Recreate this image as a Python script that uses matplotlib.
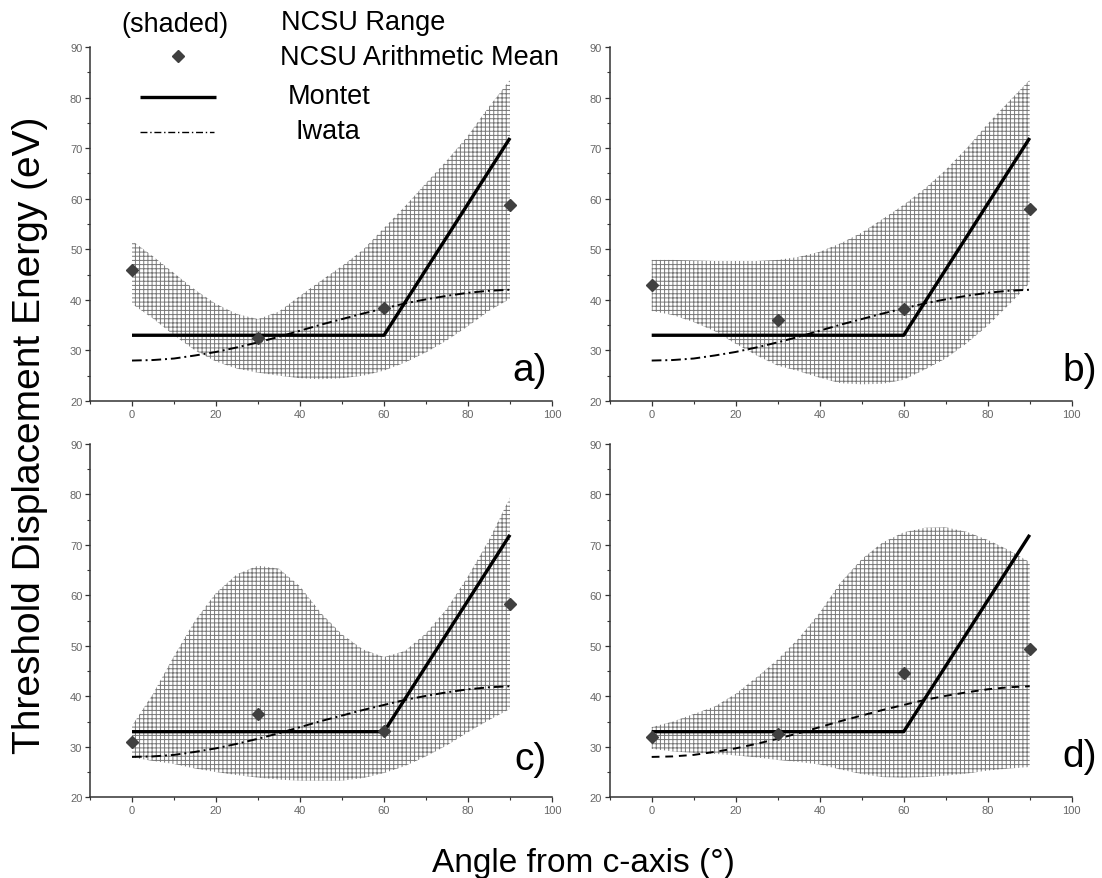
import numpy as np
import matplotlib
matplotlib.use("Agg")
import matplotlib.pyplot as plt
from matplotlib.lines import Line2D
from matplotlib.ticker import MultipleLocator

plt.rcParams['font.family'] = ['Liberation Sans', 'DejaVu Sans']
plt.rcParams['hatch.linewidth'] = 0.7

# angles (deg from c-axis) where the curves were sampled
ang = [0, 5, 10, 15, 20, 25, 30, 35, 40, 45, 50, 55, 60, 65, 70, 75, 80, 85, 90]

# Montet model
montet_x = [0, 60, 90]
montet_y = [33, 33, 72]

# Iwata model
iwata_y = [28.0, 28.1, 28.4, 29.0, 29.7, 30.6, 31.6, 32.7, 33.9, 35.1,
           36.2, 37.3, 38.3, 39.3, 40.1, 40.8, 41.4, 41.8, 42.0]

# NCSU arithmetic means
mean_x = [0, 30, 60, 90]
mean_a = [46.0, 32.5, 38.3, 58.7]
mean_b = [43.0, 36.0, 38.2, 58.0]
mean_c = [31.0, 36.6, 33.2, 58.2]
mean_d = [32.0, 32.5, 44.7, 49.4]

# NCSU range (upper / lower envelope)
hi_a = [51.7, 48.6, 45.3, 42.0, 39.2, 37.2, 36.2, 37.7, 40.8, 43.8,
        46.7, 49.9, 54.2, 58.5, 63.1, 67.6, 72.5, 78.2, 83.5]
lo_a = [39.2, 36.3, 33.0, 30.0, 27.8, 26.4, 25.6, 25.0, 24.5, 24.3,
        24.5, 25.0, 26.0, 27.6, 29.6, 32.0, 34.8, 37.8, 40.2]
hi_b = [47.9, 47.9, 47.8, 47.7, 47.7, 47.7, 47.9, 48.5, 49.5, 51.2,
        53.3, 56.0, 58.8, 62.0, 65.7, 70.0, 74.8, 79.2, 83.5]
lo_b = [37.8, 37.0, 35.6, 33.8, 31.3, 29.0, 27.0, 25.9, 24.6, 23.5,
        23.3, 23.4, 24.2, 26.2, 28.4, 31.4, 34.9, 39.0, 43.3]
hi_c = [34.2, 40.5, 48.0, 55.0, 60.5, 64.2, 65.9, 65.3, 61.8, 56.5,
        52.3, 49.3, 47.8, 49.0, 52.5, 57.4, 63.8, 71.0, 79.4]
lo_c = [27.9, 27.2, 26.6, 25.7, 25.0, 24.4, 23.9, 23.5, 23.3, 23.3,
        23.3, 23.8, 24.8, 26.2, 28.1, 30.3, 32.9, 35.3, 37.5]
hi_d = [33.9, 35.0, 36.5, 38.0, 40.5, 43.8, 47.3, 51.5, 56.6, 62.6,
        67.2, 70.5, 72.5, 73.4, 73.5, 72.6, 71.0, 69.0, 66.6]
lo_d = [29.6, 29.1, 28.8, 28.6, 28.3, 27.9, 27.4, 27.0, 26.5, 25.5,
        24.6, 24.0, 23.9, 24.0, 24.3, 24.7, 25.3, 25.7, 26.0]

panels = [
    ('a)', hi_a, lo_a, mean_a, (5, 2, 1, 2)),
    ('b)', hi_b, lo_b, mean_b, (5, 2, 1, 2)),
    ('c)', hi_c, lo_c, mean_c, (5, 2, 1, 2)),
    ('d)', hi_d, lo_d, mean_d, (4, 3)),
]

W, H = 1102, 879
fig = plt.figure(figsize=(W / 100, H / 100), dpi=100)

# axes boxes in pixels: left, bottom spine y, top y
boxes = [(90, 402, 48), (609.7, 402, 48), (90, 798.3, 445), (609.7, 798.3, 445)]
lab_pos = [(0.989, 0.058), (1.055, 0.058), (0.989, 0.08), (1.055, 0.089)]
ax_w = 462

gray = '#666666'
for (lab, hi, lo, mean, dash), (l, b, t), (lx, ly) in zip(panels, boxes, lab_pos):
    ax = fig.add_axes([l / W, 1 - b / H, ax_w / W, (b - t) / H])
    ax.fill_between(ang, lo, hi, facecolor='white', edgecolor='#777777',
                    linewidth=0, hatch='++++', zorder=1)
    ax.plot(montet_x, montet_y, color='black', lw=2.4, zorder=3,
            solid_capstyle='butt')
    ax.plot(ang, iwata_y, color='black', lw=1.4, dashes=dash, zorder=3)
    ax.plot(mean_x, mean, ls='none', marker='D', ms=6.5, color='#404040',
            zorder=4)
    ax.set_xlim(-10, 100)
    ax.set_ylim(20, 90)
    ax.xaxis.set_major_locator(MultipleLocator(20))
    ax.xaxis.set_minor_locator(MultipleLocator(10))
    ax.yaxis.set_major_locator(MultipleLocator(10))
    ax.yaxis.set_minor_locator(MultipleLocator(5))
    for s in ('top', 'right'):
        ax.spines[s].set_visible(False)
    for s in ('left', 'bottom'):
        ax.spines[s].set_linewidth(1.1)
        ax.spines[s].set_color('#333333')
    ax.tick_params(which='major', direction='out', length=3.5, width=0.9,
                   color='#333333', labelsize=8, labelcolor=gray, pad=2)
    ax.tick_params(which='minor', direction='out', length=2.2, width=0.8,
                   color='#333333')
    ax.text(lx, ly, lab, transform=ax.transAxes, ha='right', va='baseline',
            fontsize=28, clip_on=False)

fig.text(30 / W, 1 - 435 / H, 'Threshold Displacement Energy (eV)',
         rotation=90, ha='center', va='center', fontsize=28)
fig.text(583 / W, 1 - 872 / H, 'Angle from c-axis (\u00b0)',
         ha='center', va='baseline', fontsize=24)

# key in the upper left
fs = 19.5
fig.text(121 / W, 1 - 25 / H, '(shaded)', ha='left', va='center', fontsize=fs)
fig.text(281 / W, 1 - 23 / H, 'NCSU Range', ha='left', va='center', fontsize=fs)
fig.add_artist(Line2D([178 / W], [1 - 57 / H], ls='none', marker='D', ms=6.5,
                      color='#404040'))
fig.text(280 / W, 1 - 58 / H, 'NCSU Arithmetic Mean', ha='left', va='center',
         fontsize=fs)
fig.add_artist(Line2D([140 / W, 216 / W], [1 - 97.5 / H] * 2, color='black',
                      lw=2.4, solid_capstyle='butt'))
fig.text(288 / W, 1 - 97 / H, 'Montet', ha='left', va='center', fontsize=fs)
fig.add_artist(Line2D([140 / W, 214 / W], [1 - 133 / H] * 2, color='black',
                      lw=1.0, dashes=(5, 2, 1, 2)))
fig.text(295 / W, 1 - 132 / H, 'Iwata', ha='left', va='center', fontsize=fs)

fig.savefig('out.png', dpi=100)
